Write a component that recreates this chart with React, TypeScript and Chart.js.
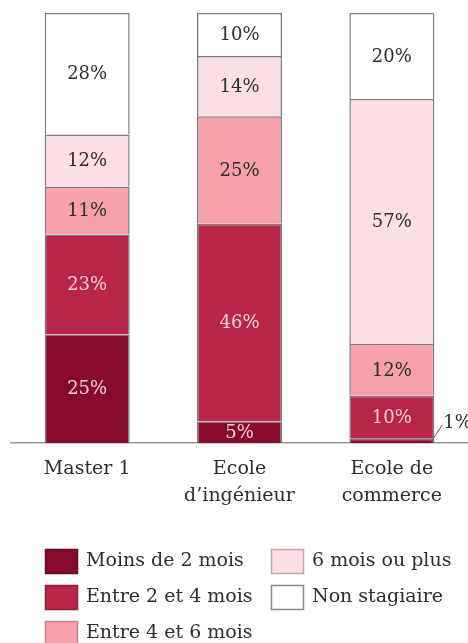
import React, { useEffect, useRef } from "react";
import { Chart, registerables } from "chart.js";

Chart.register(...registerables);

const categories: string[][] = [["Master 1"], ["Ecole", "d’ingénieur"], ["Ecole de", "commerce"]];
const seriesNames = ["Moins de 2 mois", "Entre 2 et 4 mois", "Entre 4 et 6 mois", "6 mois ou plus", "Non stagiaire"];
const moinsDe2Mois = [25, 5, 1];
const entre2et4Mois = [23, 46, 10];
const entre4et6Mois = [11, 25, 12];
const sixMoisOuPlus = [12, 14, 57];
const nonStagiaire = [28, 10, 20];

const rawSeries = [moinsDe2Mois, entre2et4Mois, entre4et6Mois, sixMoisOuPlus, nonStagiaire];
const fills = ["#870A2D", "#B92549", "#F7A0AA", "#FCDEE5", "#FFFFFF"];
const edges = ["#6a0a26", "#8f1f3b", "#c4838c", "#bfa9ae", "#8a8a8a"];
const labelColors = ["#F3D3DA", "#F3D3DA", "#2e2e2e", "#2e2e2e", "#2e2e2e"];

const FONT = "'DejaVu Serif', serif";

const totals = categories.map((_, i) => rawSeries.reduce((s, arr) => s + arr[i], 0));

const valueLabels = {
  id: "valueLabels",
  afterDatasetsDraw(chart: any) {
    const ctx = chart.ctx;
    ctx.save();
    ctx.font = `18px ${FONT}`;
    ctx.textBaseline = "middle";
    chart.data.datasets.forEach((ds: any, di: number) => {
      const meta = chart.getDatasetMeta(di);
      meta.data.forEach((bar: any, i: number) => {
        const raw = rawSeries[di][i];
        const txt = raw + "%";
        const h = Math.abs(bar.base - bar.y);
        const cy = (bar.y + bar.base) / 2;
        if (h >= 18) {
          ctx.textAlign = "center";
          ctx.fillStyle = labelColors[di];
          ctx.fillText(txt, bar.x, cy + 1);
        } else if (h >= 10) {
          const w = ctx.measureText(txt).width + 6;
          ctx.fillStyle = fills[di];
          ctx.fillRect(bar.x - w / 2, cy - 12, w, 25);
          ctx.textAlign = "center";
          ctx.fillStyle = labelColors[di];
          ctx.fillText(txt, bar.x, cy + 1);
        } else {
          const right = bar.x + bar.width / 2;
          ctx.strokeStyle = "#555";
          ctx.lineWidth = 1;
          ctx.beginPath();
          ctx.moveTo(right - 4, bar.base);
          ctx.lineTo(right + 8, cy - 16);
          ctx.stroke();
          ctx.textAlign = "left";
          ctx.fillStyle = "#2e2e2e";
          ctx.fillText(txt, right + 9, cy - 18);
        }
      });
    });
    ctx.restore();
  },
};

const customLegend = {
  id: "customLegend",
  afterDraw(chart: any) {
    const ctx = chart.ctx;
    ctx.save();
    ctx.font = `19px ${FONT}`;
    ctx.textBaseline = "middle";
    ctx.textAlign = "left";
    const cols = [45, 271];
    const rows = [561.5, 597.5, 633.5];
    chart.data.datasets.forEach((ds: any, di: number) => {
      const col = di < 3 ? 0 : 1;
      const row = di < 3 ? di : di - 3;
      const x = cols[col];
      const y = rows[row];
      ctx.fillStyle = fills[di];
      ctx.fillRect(x, y - 12.5, 33, 25);
      ctx.strokeStyle = edges[di];
      ctx.lineWidth = 1.5;
      ctx.strokeRect(x + 0.5, y - 12, 32, 24);
      ctx.fillStyle = "#2e2e2e";
      ctx.fillText(ds.label, x + 41, y);
    });
    ctx.restore();
  },
};

export default function App() {
  const ref = useRef<HTMLCanvasElement | null>(null);
  useEffect(() => {
    document.body.style.margin = "0";
    if (!ref.current) return;
    const chart = new Chart(ref.current, {
      type: "bar",
      data: {
        labels: categories,
        datasets: rawSeries.map((arr, di) => ({
          label: seriesNames[di],
          data: arr.map((v, i) => (v / totals[i]) * 100),
          backgroundColor: fills[di],
          borderColor: "#7c7c7c",
          borderWidth: 1.5,
          barPercentage: 1,
          categoryPercentage: 0.558,
        })),
      },
      options: {
        responsive: false,
        animation: false,
        layout: { padding: { top: 13, left: 11, right: 0, bottom: 0 } },
        plugins: { legend: { display: false }, tooltip: { enabled: false } },
        scales: {
          x: {
            stacked: true,
            grid: { display: false, drawTicks: false },
            border: { display: true, color: "#9a9a9a", width: 1.5 },
            ticks: {
              color: "#2e2e2e",
              padding: 13,
              font: { family: FONT, size: 19, lineHeight: 1.42 },
              maxRotation: 0,
              autoSkip: false,
            },
            afterFit(scale: any) {
              scale.height = 200;
            },
          },
          y: { stacked: true, display: false, min: 0, max: 100 },
        },
      },
      plugins: [valueLabels, customLegend],
    });
    return () => chart.destroy();
  }, []);
  return <canvas ref={ref} width={468} height={643} style={{ display: "block" }} />;
}
